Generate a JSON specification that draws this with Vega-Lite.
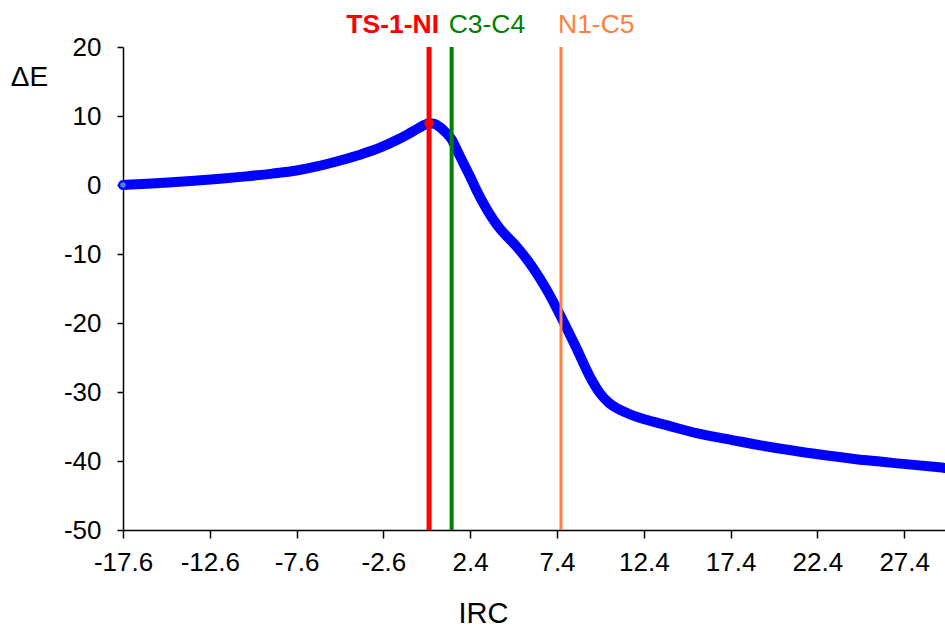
{
  "$schema": "https://vega.github.io/schema/vega-lite/v6.json",
  "width": 822,
  "height": 483,
  "autosize": {"type": "none"},
  "padding": {"left": 123, "top": 47, "right": 0, "bottom": 99},
  "background": "white",
  "config": {
    "view": {"stroke": null},
    "font": "Liberation Sans",
    "axis": {"grid": false, "domainColor": "black", "tickColor": "black", "domainWidth": 1.5, "tickWidth": 1.5, "labelColor": "black", "titleColor": "black", "labelFont": "Liberation Sans", "titleFont": "Liberation Sans", "titleFontWeight": "normal"}
  },
  "datasets": {
    "curve": [
      {"irc": -17.6, "e": 0.0},
      {"irc": -16.5, "e": 0.15},
      {"irc": -15.0, "e": 0.35},
      {"irc": -13.5, "e": 0.6},
      {"irc": -12.0, "e": 0.9},
      {"irc": -10.5, "e": 1.25},
      {"irc": -9.0, "e": 1.65},
      {"irc": -7.6, "e": 2.1},
      {"irc": -6.5, "e": 2.65},
      {"irc": -5.3, "e": 3.4},
      {"irc": -4.0, "e": 4.35},
      {"irc": -2.8, "e": 5.4},
      {"irc": -1.8, "e": 6.55},
      {"irc": -1.2, "e": 7.35},
      {"irc": -0.6, "e": 8.2},
      {"irc": -0.2, "e": 8.75},
      {"irc": 0.03, "e": 8.95},
      {"irc": 0.35, "e": 8.85},
      {"irc": 0.7, "e": 8.3},
      {"irc": 1.0, "e": 7.6},
      {"irc": 1.33, "e": 6.6},
      {"irc": 1.65, "e": 5.0},
      {"irc": 2.0, "e": 3.2},
      {"irc": 2.4, "e": 1.2},
      {"irc": 2.77, "e": -0.8},
      {"irc": 3.35, "e": -3.5},
      {"irc": 3.75, "e": -5.1},
      {"irc": 4.12, "e": -6.35},
      {"irc": 4.6, "e": -7.65},
      {"irc": 5.08, "e": -8.95},
      {"irc": 5.55, "e": -10.4},
      {"irc": 6.04, "e": -12.1},
      {"irc": 6.81, "e": -15.2},
      {"irc": 7.67, "e": -19.3},
      {"irc": 8.53, "e": -23.7},
      {"irc": 9.3, "e": -27.8},
      {"irc": 9.88, "e": -30.2},
      {"irc": 10.4, "e": -31.6},
      {"irc": 11.4, "e": -33.0},
      {"irc": 12.5, "e": -34.0},
      {"irc": 13.7, "e": -34.8},
      {"irc": 15.5, "e": -36.0},
      {"irc": 17.56, "e": -37.0},
      {"irc": 19.5, "e": -37.9},
      {"irc": 21.4, "e": -38.65},
      {"irc": 23.3, "e": -39.3},
      {"irc": 25.24, "e": -39.9},
      {"irc": 27.5, "e": -40.45},
      {"irc": 29.75, "e": -41.0}
    ],
    "lines": [
      {"irc": 0.03, "label": "TS-1-NI"},
      {"irc": 1.33, "label": "C3-C4"},
      {"irc": 7.63, "label": "N1-C5"}
    ],
    "markers": [
      {"irc": -17.6, "e": 0.0, "kind": "start"},
      {"irc": 0.03, "e": 8.95, "kind": "ts"}
    ]
  },
  "layer": [
    {
      "data": {"name": "curve"},
      "mark": {"type": "line", "color": "#0000FF", "strokeWidth": 10, "strokeCap": "round", "strokeJoin": "round", "interpolate": "monotone"},
      "encoding": {
        "x": {"field": "irc", "type": "quantitative",
          "scale": {"domain": [-17.6, 29.75], "nice": false, "zero": false},
          "axis": {"values": [-17.6, -12.6, -7.6, -2.6, 2.4, 7.4, 12.4, 17.4, 22.4, 27.4], "format": ".1f", "labelExpr": "replace(datum.label, '\u2212', '-')", "labelFontSize": 26, "tickSize": 8, "labelPadding": 11, "title": "IRC", "titleFontSize": 29, "titleX": 360, "titleY": 83, "titleBaseline": "middle", "titleAnchor": "start", "titleAlign": "center", "labelFlush": false, "labelOverlap": false}},
        "y": {"field": "e", "type": "quantitative",
          "scale": {"domain": [-50, 20], "nice": false, "zero": false},
          "axis": {"values": [-50, -40, -30, -20, -10, 0, 10, 20], "labelExpr": "replace(datum.label, '\u2212', '-')", "labelFontSize": 26, "tickSize": 6, "labelPadding": 16, "title": "ΔE", "titleFontSize": 28, "titleAngle": 0, "titleX": -94, "titleY": 30, "titleAlign": "center", "titleBaseline": "middle", "labelFlush": false}}
      }
    },
    {
      "data": {"name": "lines"},
      "mark": {"type": "rule"},
      "encoding": {
        "x": {"field": "irc", "type": "quantitative"},
        "color": {"field": "label", "type": "nominal", "scale": {"domain": ["TS-1-NI", "C3-C4", "N1-C5"], "range": ["#FF0000", "#008000", "#FF8040"]}, "legend": null},
        "strokeWidth": {"field": "label", "type": "nominal", "scale": {"domain": ["TS-1-NI", "C3-C4", "N1-C5"], "range": [5, 3, 3]}, "legend": null}
      }
    },
    {
      "data": {"name": "markers"},
      "transform": [{"filter": "datum.kind === 'start'"}],
      "mark": {"type": "point", "filled": true, "opacity": 1, "color": "#4A86E8", "size": 30},
      "encoding": {
        "x": {"field": "irc", "type": "quantitative"},
        "y": {"field": "e", "type": "quantitative"}
      }
    },
    {
      "data": {"name": "markers"},
      "transform": [{"filter": "datum.kind === 'ts'"}],
      "mark": {"type": "point", "filled": true, "opacity": 1, "color": "#FF0000", "size": 90},
      "encoding": {
        "x": {"field": "irc", "type": "quantitative"},
        "y": {"field": "e", "type": "quantitative"}
      }
    },
    {
      "data": {"name": "lines"},
      "transform": [{"filter": "datum.label === 'TS-1-NI'"}],
      "mark": {"type": "text", "align": "right", "baseline": "middle", "fontSize": 26.5, "fontWeight": "bold", "dx": 10, "color": "#FF0000"},
      "encoding": {
        "x": {"field": "irc", "type": "quantitative"},
        "y": {"datum": 23.2},
        "text": {"field": "label"}
      }
    },
    {
      "data": {"name": "lines"},
      "transform": [{"filter": "datum.label !== 'TS-1-NI'"}],
      "mark": {"type": "text", "align": "left", "baseline": "middle", "fontSize": 26.5, "dx": -3},
      "encoding": {
        "x": {"field": "irc", "type": "quantitative"},
        "y": {"datum": 23.2},
        "text": {"field": "label"},
        "color": {"field": "label", "type": "nominal", "scale": {"domain": ["TS-1-NI", "C3-C4", "N1-C5"], "range": ["#FF0000", "#008000", "#FF8040"]}, "legend": null}
      }
    }
  ]
}
